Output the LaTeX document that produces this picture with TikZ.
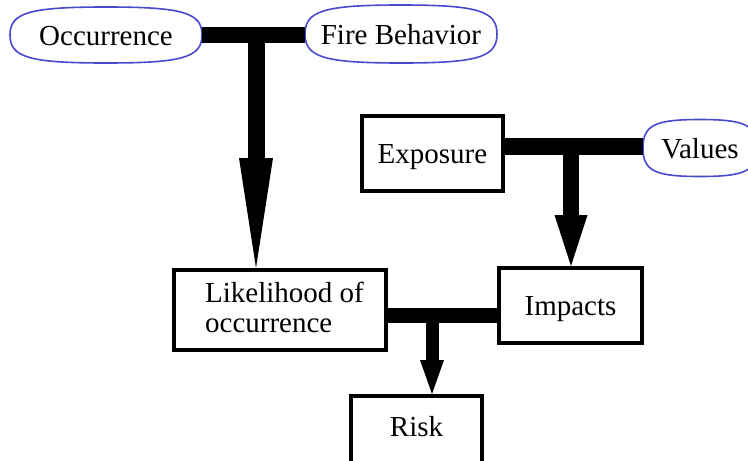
\documentclass[tikz,border=0pt]{standalone}
\usepackage{fontspec}
\setmainfont{Liberation Serif}
\usetikzlibrary{arrows.meta}
\definecolor{ovalblue}{RGB}{72,72,208}

% squarish oval drawn around a named node: #1 node, #2 half width, #3 half height
\newcommand\ovaloutline[3]{%
  \draw[oval,shift={(#1.center)}]
    (#2,0) .. controls (#2,0.8*#3) and (0.8*#2,#3) .. (0,#3)
    .. controls (-0.8*#2,#3) and (-#2,0.8*#3) .. (-#2,0)
    .. controls (-#2,-0.8*#3) and (-0.8*#2,-#3) .. (0,-#3)
    .. controls (0.8*#2,-#3) and (#2,-0.8*#3) .. (#2,0) -- cycle;}

\begin{document}
\begin{tikzpicture}[x=1pt,y=-1pt,
  font=\fontsize{29}{30}\selectfont,
  box/.style={draw, line width=4pt, inner sep=0pt},
  singleline/.style={text height=20pt, text depth=0pt},
  textnode/.style={inner sep=0pt, outer sep=0pt, singleline},
  oval/.style={draw=ovalblue, line width=1.6pt},
  thickbar/.style={line width=#1}]
\useasboundingbox (0,0) rectangle (748,461);

% factor nodes
\node[textnode, minimum width=192pt, minimum height=56pt] (occ) at (106,35) {Occurrence};
\node[textnode, minimum width=192pt, minimum height=58pt] (fb) at (401,34) {Fire Behavior};
\node[textnode, minimum width=114pt, minimum height=57pt] (val) at (700,148) {Values};
\node[box, singleline, minimum width=141pt, minimum height=75pt] (exp) at (432.5,153.5) {Exposure};
\node[box, align=left, minimum width=212pt, minimum height=80pt] (lik) at (280,310)
  {\hspace*{9pt}Likelihood of\\\hspace*{9pt}occurrence\rule[-6pt]{0pt}{6pt}};
\node[box, singleline, minimum width=143pt, minimum height=75pt] (imp) at (570.5,305.5) {Impacts};
\node[box, text height=20pt, text depth=13.6pt, minimum width=131pt, minimum height=75pt] (risk) at (416.5,433.5) {Risk};

\ovaloutline{occ}{96}{28}
\ovaloutline{fb}{96}{29}
\ovaloutline{val}{57}{28.5}

% junctions where the bars meet the arrows
\coordinate (j1) at (256,35);
\coordinate (j2) at (571,146);
\coordinate (j3) at (432,315);

\draw[thickbar=16pt] (occ.east) -- (fb.west |- occ.east);
\draw[thickbar=17pt, -{Triangle[length=110pt,width=34pt,line width=0pt]}] (j1) -- (j1 |- lik.north);

\draw[thickbar=17pt] (exp.east |- j2) -- (val.west |- j2);
\draw[thickbar=16pt, -{Triangle[length=51pt,width=33pt,line width=0pt]}] (j2) -- (j2 |- imp.north);

\draw[thickbar=15pt] (lik.east |- j3) -- (imp.west |- j3);
\draw[thickbar=13pt, -{Triangle[length=34pt,width=24pt,line width=0pt]}] (j3) -- (j3 |- risk.north);
\end{tikzpicture}
\end{document}
